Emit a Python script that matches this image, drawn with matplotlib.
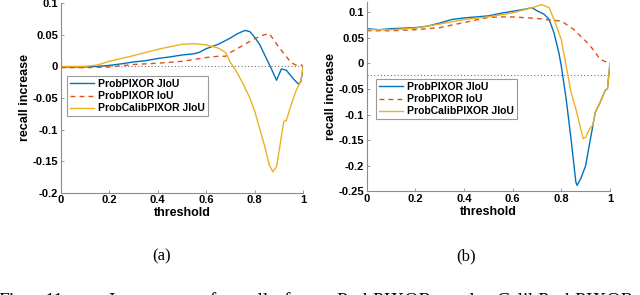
import numpy as np
import matplotlib
matplotlib.use("Agg")
import matplotlib.pyplot as plt

plt.rcParams['font.family'] = ['Liberation Sans', 'DejaVu Sans']
plt.rcParams['axes.unicode_minus'] = False

labels = ['ProbPIXOR JIoU', 'ProbPIXOR IoU', 'ProbCalibPIXOR JIoU']
colors = ['#0072BD', '#D95319', '#EDB120']

# (a) left panel
a_jiou_x = [0, 0.05, 0.1, 0.15, 0.2, 0.25, 0.3, 0.35, 0.4, 0.45, 0.5, 0.55, 0.57, 0.6, 0.65, 0.7,
            0.73, 0.76, 0.78, 0.8, 0.82, 0.85, 0.87, 0.89, 0.91, 0.93, 0.96, 0.98, 0.99, 1.0]
a_jiou_y = [-0.001, -0.001, -0.001, 0.0, 0.0015, 0.004, 0.007, 0.009, 0.0125, 0.015, 0.018, 0.02, 0.022,
            0.028, 0.035, 0.045, 0.052, 0.057, 0.055, 0.046, 0.035, 0.011, -0.005, -0.022, -0.004, -0.006,
            -0.02, -0.028, -0.025, 0.0]

a_iou_x = [0, 0.1, 0.2, 0.3, 0.4, 0.5, 0.6, 0.65, 0.68, 0.7, 0.75, 0.8, 0.83, 0.86, 0.9, 0.95, 0.97,
           0.99, 1.0]
a_iou_y = [-0.002, -0.002, -0.001, 0.003, 0.005, 0.008, 0.014, 0.016, 0.016, 0.022, 0.033, 0.044, 0.049,
           0.052, 0.03, 0.006, 0.002, 0.003, 0.0]

a_calib_x = [0, 0.1, 0.15, 0.2, 0.3, 0.4, 0.5, 0.55, 0.6, 0.65, 0.68, 0.7, 0.72, 0.75, 0.78, 0.8, 0.82,
             0.84, 0.86, 0.875, 0.89, 0.9, 0.92, 0.93, 0.95, 0.97, 0.99, 1.0]
a_calib_y = [0.0, 0.0, 0.002, 0.008, 0.017, 0.027, 0.035, 0.036, 0.034, 0.029, 0.022, 0.006, -0.005,
             -0.026, -0.05, -0.071, -0.098, -0.125, -0.156, -0.167, -0.159, -0.135, -0.087, -0.086,
             -0.061, -0.039, -0.023, 0.0]

# (b) right panel
b_jiou_x = [0, 0.05, 0.1, 0.2, 0.25, 0.3, 0.35, 0.4, 0.5, 0.55, 0.6, 0.65, 0.68, 0.7, 0.73, 0.75, 0.77,
            0.79, 0.8, 0.82, 0.84, 0.86, 0.865, 0.88, 0.9, 0.92, 0.93, 0.94, 0.96, 0.98, 0.99, 1.0]
b_jiou_y = [0.068, 0.066, 0.068, 0.07, 0.073, 0.079, 0.086, 0.089, 0.093, 0.098, 0.102, 0.106, 0.109,
            0.103, 0.096, 0.086, 0.06, 0.021, -0.005, -0.069, -0.147, -0.232, -0.238, -0.225, -0.2,
            -0.147, -0.121, -0.095, -0.076, -0.053, -0.049, 0.0]

b_iou_x = [0, 0.1, 0.2, 0.3, 0.4, 0.5, 0.55, 0.6, 0.7, 0.75, 0.8, 0.85, 0.9, 0.93, 0.96, 0.99, 1.0]
b_iou_y = [0.064, 0.064, 0.066, 0.07, 0.08, 0.09, 0.091, 0.091, 0.088, 0.085, 0.083, 0.067, 0.044, 0.028,
           0.008, 0.002, 0.0]

b_calib_x = [0, 0.1, 0.2, 0.3, 0.4, 0.5, 0.6, 0.68, 0.72, 0.75, 0.77, 0.8, 0.82, 0.84, 0.86, 0.89, 0.9,
             0.92, 0.93, 0.94, 0.96, 0.98, 0.99, 1.0]
b_calib_y = [0.066, 0.066, 0.069, 0.077, 0.086, 0.091, 0.099, 0.109, 0.115, 0.109, 0.086, 0.047, -0.005,
             -0.056, -0.089, -0.147, -0.144, -0.125, -0.121, -0.095, -0.076, -0.053, -0.049, 0.0]

a_ref = 0.0
b_ref = -0.023

a_yticks = [-0.2, -0.15, -0.1, -0.05, 0, 0.05, 0.1]
a_yticklabels = ['-0.2', '-0.15', '-0.1', '-0.05', '0', '0.05', '0.1']
b_yticks = [-0.25, -0.2, -0.15, -0.1, -0.05, 0, 0.05, 0.1]
b_yticklabels = ['-0.25', '-0.2', '-0.15', '-0.1', '-0.05', '0', '0.05', '0.1']
xticks = [0, 0.2, 0.4, 0.6, 0.8, 1]
xticklabels = ['0', '0.2', '0.4', '0.6', '0.8', '1']

fig = plt.figure(figsize=(6.4, 2.95), dpi=100)
ax1 = fig.add_axes([0.0948, 0.347, 0.379, 0.642])
ax2 = fig.add_axes([0.573, 0.351, 0.380, 0.642])


def style(ax, yt, ytl, ylim, legpos, data, ref):
    ax.plot([0, 1], [ref, ref], ls=(0, (1, 2)), color='0.45', lw=0.8, zorder=1)
    styles = ['-', (0, (3.5, 3)), '-']
    for (xs, ys), c, s, lab in zip(data, colors, styles, labels):
        ax.plot(xs, ys, color=c, ls=s, lw=1.0, label=lab, zorder=2)
    ax.set_xlim(0, 1)
    ax.set_ylim(*ylim)
    ax.set_xticks(xticks)
    ax.set_xticklabels(xticklabels)
    ax.set_yticks(yt)
    ax.set_yticklabels(ytl)
    for sp in ['top', 'right']:
        ax.spines[sp].set_visible(False)
    for sp in ['left', 'bottom']:
        ax.spines[sp].set_color('0.55')
        ax.spines[sp].set_linewidth(0.8)
    ax.tick_params(direction='in', length=2.5, width=0.6, color='0.55', labelsize=8, pad=2)
    for t in ax.get_xticklabels() + ax.get_yticklabels():
        t.set_fontweight('bold')
    ax.set_xlabel('threshold', fontsize=9, fontweight='bold', labelpad=1)
    ax.set_ylabel('recall increase', fontsize=9, fontweight='bold', labelpad=1)
    leg = ax.legend(loc='upper left', bbox_to_anchor=legpos, prop={'weight': 'bold', 'size': 7.5},
                    frameon=True, fancybox=False, framealpha=1, edgecolor='0.6', handlelength=2.3,
                    labelspacing=0.2, borderpad=0.3, handletextpad=0.4, borderaxespad=0)
    leg.get_frame().set_linewidth(0.8)


style(ax1, a_yticks, a_yticklabels, (-0.2, 0.1), (0.026, 0.616),
      [(a_jiou_x, a_jiou_y), (a_iou_x, a_iou_y), (a_calib_x, a_calib_y)], a_ref)
style(ax2, b_yticks, b_yticklabels, (-0.25, 0.12), (0.038, 0.594),
      [(b_jiou_x, b_jiou_y), (b_iou_x, b_iou_y), (b_calib_x, b_calib_y)], b_ref)

serif = ['Liberation Serif', 'DejaVu Serif']
fig.text(162 / 640, 1 - 256 / 295, '(a)', family=serif, fontsize=12, ha='center', va='center')
fig.text(466 / 640, 1 - 256 / 295, '(b)', family=serif, fontsize=12, ha='center', va='center')

caption_words = ['Fig.', '11.', 'Increase', 'of', 'recall', 'for', 'ProbPIXOR', 'and', 'CalibProbPIXOR']
caption_x = [-2, 44, 108, 200, 226, 283, 336, 446, 496]
for w, x in zip(caption_words, caption_x):
    fig.text(x / 640, -0.038, w, family=serif, fontsize=14, ha='left', va='baseline')

fig.savefig('out.png', dpi=100)
